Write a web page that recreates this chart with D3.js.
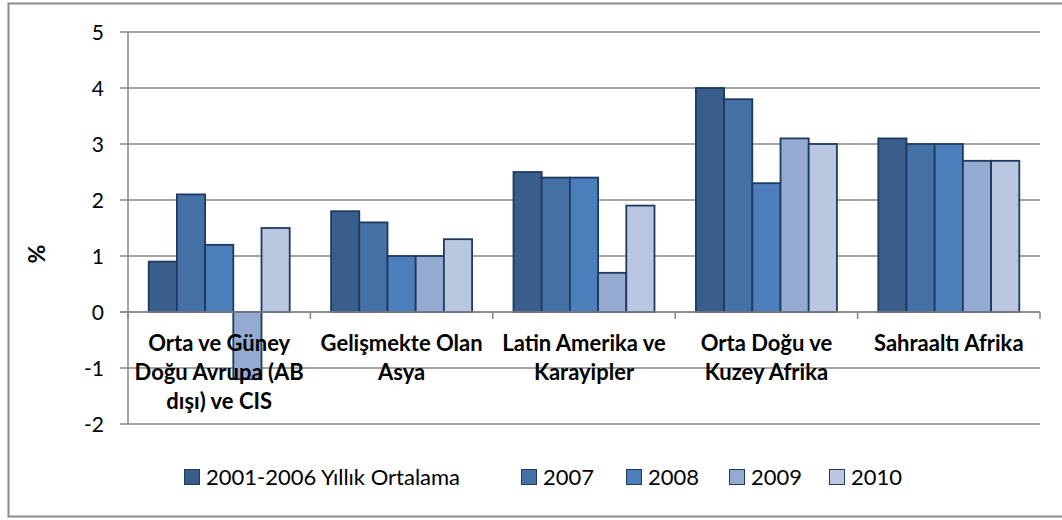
<!DOCTYPE html>
<html><head><meta charset="utf-8">
<script src="https://cdn.jsdelivr.net/npm/d3@7"></script>
<style>
html,body{margin:0;padding:0;background:#fff;}
svg{display:block;}
text{font-family:Lato,"Open Sans",sans-serif;fill:#000;}
</style></head>
<body>
<svg id="chart" width="1062" height="520"></svg>
<script>
const categories = [
  ["Orta ve Güney","Doğu Avrupa (AB","dışı) ve CIS"],
  ["Gelişmekte Olan","Asya"],
  ["Latin Amerika ve","Karayipler"],
  ["Orta Doğu ve","Kuzey Afrika"],
  ["Sahraaltı Afrika"]
];
const seriesNames = ["2001-2006 Yıllık Ortalama","2007","2008","2009","2010"];
const avg20012006 = [0.9, 1.8, 2.5, 4.0, 3.1];
const y2007 = [2.1, 1.6, 2.4, 3.8, 3.0];
const y2008 = [1.2, 1.0, 2.4, 2.3, 3.0];
const y2009 = [-1.2, 1.0, 0.7, 3.1, 2.7];
const y2010 = [1.5, 1.3, 1.9, 3.0, 2.7];
const yTicks = [-2,-1,0,1,2,3,4,5];
const colors = ["#3A5E8C","#4571A6","#4C7EBC","#95AAD1","#BAC7E0"];

const seriesValues = [avg20012006, y2007, y2008, y2009, y2010];
const svg = d3.select("#chart");
const L = 128, R = 1040, T = 32, B = 424;
const gridColor = "#878787";

svg.append("rect").attr("x",8.5).attr("y",3.5).attr("width",1080).attr("height",513)
  .attr("fill","#fff").attr("stroke","#8c8c8c").attr("stroke-width",2);

const y = d3.scaleLinear().domain([-2,5]).range([B,T]);
const x0 = d3.scaleBand().domain(d3.range(categories.length)).range([L,R])
  .paddingInner(0.227).paddingOuter(0.1135);
const x1 = d3.scaleBand().domain(d3.range(seriesNames.length)).range([0,x0.bandwidth()]);

// gridlines
svg.append("g").selectAll("line").data(yTicks).join("line")
  .attr("x1",L-8).attr("x2",R).attr("y1",d=>y(d)).attr("y2",d=>y(d))
  .attr("stroke",gridColor).attr("stroke-width",1.5);
// y axis line
svg.append("line").attr("x1",L).attr("x2",L).attr("y1",T).attr("y2",B)
  .attr("stroke",gridColor).attr("stroke-width",1.5);
// y tick labels
svg.append("g").selectAll("text").data(yTicks).join("text")
  .attr("x",104).attr("y",d=>y(d)).attr("dy","0.36em").attr("text-anchor","end")
  .style("font-size","21px").text(d=>d);

// bars
const gBars = svg.append("g");
seriesValues.forEach((vals,s)=>{
  gBars.selectAll(null).data(vals).join("rect")
    .attr("x",(d,i)=>x0(i)+x1(s))
    .attr("y",d=>y(Math.max(0,d)))
    .attr("width",x1.bandwidth())
    .attr("height",d=>Math.abs(y(d)-y(0)))
    .attr("fill",colors[s]).attr("stroke","#1E3A62").attr("stroke-width",1.8);
});

// zero line + category ticks
svg.append("line").attr("x1",L-8).attr("x2",R).attr("y1",y(0)).attr("y2",y(0))
  .attr("stroke",gridColor).attr("stroke-width",1.5);
const step = x0.step();
svg.append("g").selectAll("line").data(d3.range(categories.length+1)).join("line")
  .attr("x1",d=>L+d*step).attr("x2",d=>L+d*step)
  .attr("y1",y(0)).attr("y2",y(0)+7)
  .attr("stroke",gridColor).attr("stroke-width",1.5);

// category labels
const gCat = svg.append("g");
categories.forEach((lines,i)=>{
  const t = gCat.append("text").attr("text-anchor","middle")
    .style("font-size","22px").style("font-weight","bold");
  lines.forEach((ln,k)=>{
    t.append("tspan").attr("x",x0(i)+x0.bandwidth()/2).attr("y",351+k*29).text(ln);
  });
});

// y title
svg.append("text").attr("transform","translate(45,254) rotate(-90)")
  .attr("text-anchor","middle").style("font-size","23px").style("font-weight","bold").text("%");

// legend
const legendX = [184, 521, 626, 729, 829];
const lg = svg.append("g");
seriesNames.forEach((n,s)=>{
  lg.append("rect").attr("x",legendX[s]+0.5).attr("y",469.5).attr("width",15).attr("height",15)
    .attr("fill",colors[s]).attr("stroke","#1E3A62").attr("stroke-width",1);
  lg.append("text").attr("x",legendX[s]+22).attr("y",485).style("font-size","22px").text(n);
});
</script>
</body></html>
